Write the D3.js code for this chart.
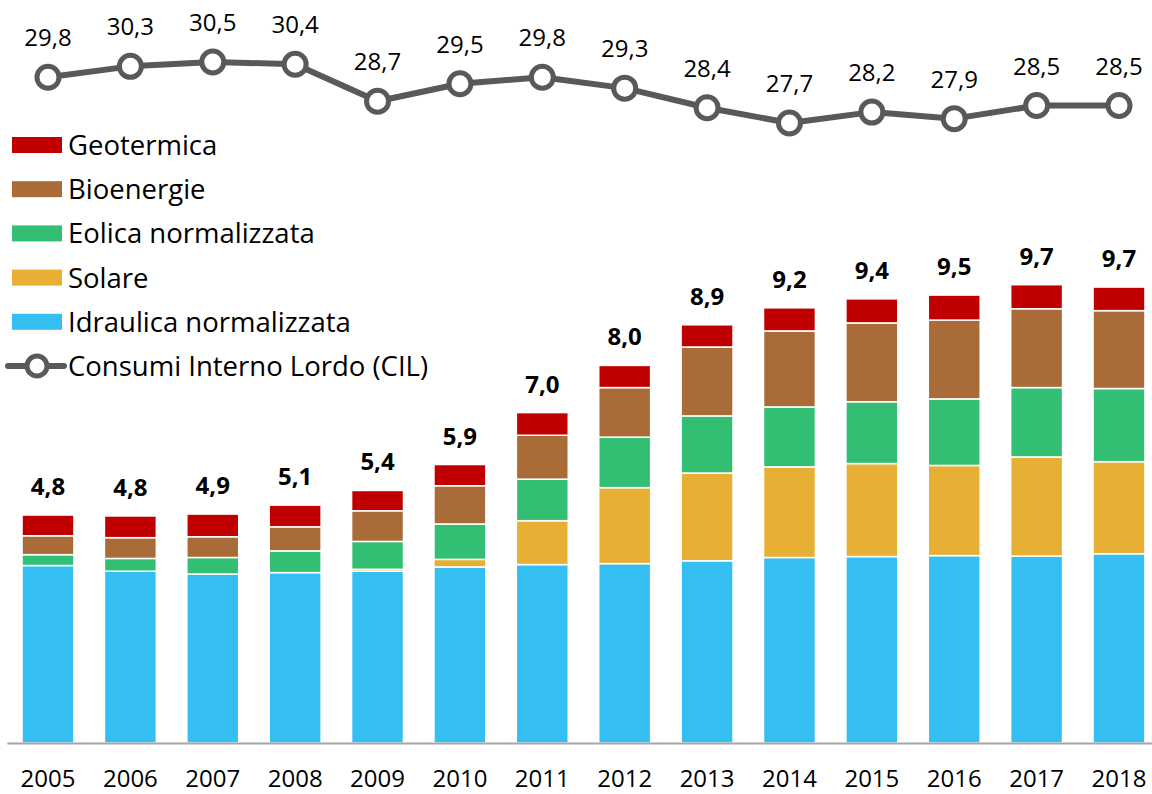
<!DOCTYPE html>
<html>
<head>
<meta charset="utf-8">
<script src="https://cdn.jsdelivr.net/npm/d3@7"></script>
<style>
  html, body { margin: 0; padding: 0; background: #fff; }
  svg { display: block; font-family: "Open Sans", sans-serif; }
</style>
</head>
<body>
<svg id="chart" width="1152" height="794"></svg>
<script>
const years = ["2005","2006","2007","2008","2009","2010","2011","2012","2013","2014","2015","2016","2017","2018"];
const idraulica = [3.76,3.64,3.58,3.61,3.64,3.73,3.78,3.80,3.86,3.93,3.95,3.97,3.96,4.01];
const solare    = [0,0,0,0,0.04,0.16,0.93,1.61,1.86,1.92,1.97,1.91,2.10,1.95];
const eolica    = [0.23,0.27,0.35,0.46,0.59,0.75,0.88,1.07,1.21,1.27,1.31,1.41,1.47,1.55];
const bioenergie= [0.40,0.44,0.44,0.51,0.65,0.81,0.93,1.05,1.46,1.61,1.67,1.67,1.67,1.65];
const geotermica= [0.44,0.46,0.48,0.46,0.43,0.45,0.48,0.47,0.47,0.49,0.51,0.53,0.51,0.50];
const totali    = [4.8,4.8,4.9,5.1,5.4,5.9,7.0,8.0,8.9,9.2,9.4,9.5,9.7,9.7];
const cil       = [29.8,30.3,30.5,30.4,28.7,29.5,29.8,29.3,28.4,27.7,28.2,27.9,28.5,28.5];

const seriesNames = ["Idraulica normalizzata","Solare","Eolica normalizzata","Bioenergie","Geotermica"];
const seriesVals = [idraulica, solare, eolica, bioenergie, geotermica];
const colors = ["#35BEF2","#E7AF34","#33BF73","#A96C39","#C00000"];
const lineName = "Consumi Interno Lordo (CIL)";
const lineColor = "#595959";

const fmt = v => d3.format(".1f")(v).replace(".", ",");

const svg = d3.select("#chart");

const rows = years.map((y, i) => {
  const r = { year: y };
  seriesNames.forEach((s, k) => r[s] = seriesVals[k][i]);
  return r;
});
const stack = d3.stack().keys(seriesNames)(rows);

const x = d3.scaleBand().domain(years).range([6.8, 1160.2]).paddingInner(0.37).paddingOuter(0.185);
const y = d3.scaleLinear().domain([0, 10]).range([743, 271]);
const yL = d3.scaleLinear().domain([27.7, 30.5]).range([123, 62]);

// bars
svg.append("g").selectAll("g").data(stack).join("g")
  .attr("fill", (d, i) => colors[i])
  .selectAll("rect").data(d => d).join("rect")
  .attr("x", d => x(d.data.year))
  .attr("width", x.bandwidth())
  .attr("y", d => y(d[1]))
  .attr("height", d => Math.max(0, y(d[0]) - y(d[1])))
  .attr("stroke", "#fff")
  .attr("stroke-width", d => (d[1] - d[0]) > 0 ? 1.5 : 0);

// axis
const ax = svg.append("g").attr("transform", "translate(0,743)")
  .call(d3.axisBottom(x).tickSize(0));
ax.select(".domain").attr("stroke", "#A6A6A6").attr("stroke-width", 2);
ax.selectAll("text").attr("y", 44).attr("dy", 0)
  .style("font-family", "'Open Sans', sans-serif").style("font-size", "24px").attr("fill", "#000");

// totals
const tops = stack[stack.length - 1];
svg.append("g").selectAll("text").data(years).join("text")
  .attr("x", d => x(d) + x.bandwidth() / 2)
  .attr("y", (d, i) => y(tops[i][1]) - 20)
  .attr("text-anchor", "middle")
  .style("font-size", "24px").style("font-weight", "bold")
  .text((d, i) => fmt(totali[i]));

// line
const cx = d => x(d) + x.bandwidth() / 2;
const line = d3.line().x((d, i) => cx(years[i])).y(d => yL(d));
svg.append("path").datum(cil).attr("d", line)
  .attr("fill", "none").attr("stroke", lineColor).attr("stroke-width", 6).attr("stroke-linejoin", "round");
svg.append("g").selectAll("circle").data(cil).join("circle")
  .attr("cx", (d, i) => cx(years[i])).attr("cy", d => yL(d)).attr("r", 11)
  .attr("fill", "#fff").attr("stroke", lineColor).attr("stroke-width", 5);
svg.append("g").selectAll("text").data(cil).join("text")
  .attr("x", (d, i) => cx(years[i])).attr("y", d => yL(d) - 31)
  .attr("text-anchor", "middle").style("font-size", "24px")
  .text(d => fmt(d));

// legend
const legendItems = [4, 3, 2, 1, 0];
const lg = svg.append("g");
legendItems.forEach((k, j) => {
  const cy = 145 + j * 44.2;
  lg.append("rect").attr("x", 12).attr("y", cy - 8).attr("width", 50).attr("height", 16).attr("fill", colors[k]);
  lg.append("text").attr("x", 68).attr("y", cy + 10).style("font-size", "27.5px").text(seriesNames[k]);
});
{
  const cy = 145 + 5 * 44.2;
  lg.append("line").attr("x1", 8).attr("x2", 64).attr("y1", cy).attr("y2", cy)
    .attr("stroke", lineColor).attr("stroke-width", 6).attr("stroke-linecap", "round");
  lg.append("circle").attr("cx", 37).attr("cy", cy).attr("r", 10)
    .attr("fill", "#fff").attr("stroke", lineColor).attr("stroke-width", 5);
  lg.append("text").attr("x", 68).attr("y", cy + 10).style("font-size", "27.5px").text(lineName);
}
</script>
</body>
</html>
